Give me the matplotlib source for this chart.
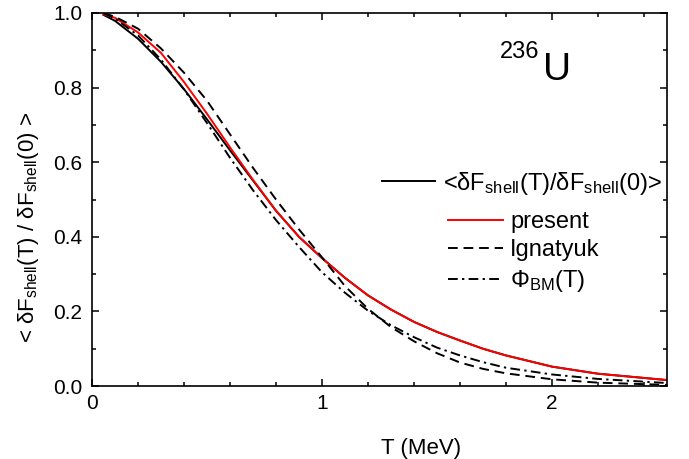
import numpy as np
import matplotlib
matplotlib.use("Agg")
import matplotlib.pyplot as plt
from matplotlib.ticker import MultipleLocator, FormatStrFormatter

plt.rcParams['font.family'] = ['Liberation Sans', 'DejaVu Sans']
plt.rcParams['mathtext.fontset'] = 'custom'
plt.rcParams['mathtext.rm'] = 'Liberation Sans'
plt.rcParams['mathtext.it'] = 'Liberation Sans:italic'

# temperature grid (MeV)
T = [0.05, 0.1, 0.2, 0.3, 0.4, 0.5, 0.6, 0.7, 0.8, 0.9, 1.0,
     1.1, 1.2, 1.3, 1.4, 1.5, 1.6, 1.7, 1.8, 2.0, 2.2, 2.5]

# <dF_shell(T)/dF_shell(0)>  (black solid)
avg_ratio = [0.995, 0.979, 0.931, 0.869, 0.796, 0.715, 0.632, 0.551, 0.47, 0.40, 0.343,
             0.29, 0.243, 0.205, 0.172, 0.145, 0.122, 0.10, 0.082, 0.052, 0.033, 0.016]
# present (red)
present = [0.997, 0.987, 0.948, 0.893, 0.815, 0.73, 0.64, 0.553, 0.47, 0.40, 0.343,
           0.29, 0.243, 0.205, 0.172, 0.145, 0.122, 0.10, 0.082, 0.052, 0.033, 0.016]
# Ignatyuk (dashed)
ignatyuk = [1.0, 0.99, 0.958, 0.905, 0.84, 0.765, 0.675, 0.585, 0.50, 0.42, 0.345,
            0.268, 0.207, 0.158, 0.12, 0.088, 0.063, 0.046, 0.034, 0.018, 0.009, 0.003]
# Phi_BM(T) (dash-dot)
phi_bm = [1.0, 0.985, 0.94, 0.875, 0.795, 0.705, 0.612, 0.525, 0.445, 0.373, 0.305,
          0.25, 0.202, 0.163, 0.131, 0.103, 0.082, 0.064, 0.049, 0.031, 0.019, 0.008]

fig = plt.figure(figsize=(6.89, 4.59), dpi=100)
ax = fig.add_axes([0.1335, 0.159, 0.8345, 0.8127])

lw = 1.4
l1, = ax.plot(T, avg_ratio, color='black', lw=lw)
l2, = ax.plot(T, present, color='#ff0000', lw=lw)
l3, = ax.plot(T, ignatyuk, color='black', lw=lw, dashes=(5, 3))
l4, = ax.plot(T, phi_bm, color='black', lw=lw, dashes=(5, 2.2, 1.2, 2.2))

ax.set_xlim(0, 2.5)
ax.set_ylim(0, 1.0)
ax.xaxis.set_major_locator(MultipleLocator(1))
ax.xaxis.set_minor_locator(MultipleLocator(0.2))
ax.yaxis.set_major_locator(MultipleLocator(0.2))
ax.yaxis.set_minor_locator(MultipleLocator(0.1))
ax.yaxis.set_major_formatter(FormatStrFormatter('%.1f'))
ax.tick_params(which='both', direction='in', top=True, right=True, width=1.1, labelsize=15)
ax.tick_params(which='major', length=5)
ax.tick_params(which='minor', length=3)
ax.tick_params(axis='x', which='major', pad=6)
ax.tick_params(axis='y', which='major', pad=7)
for s in ax.spines.values():
    s.set_linewidth(1.2)

ax.set_xlabel('T (MeV)', fontsize=16)
ax.xaxis.set_label_coords(0.572, -0.14)
ax.set_ylabel(r'< δF$_{\mathrm{shell}}$(T) / δF$_{\mathrm{shell}}$(0) >', fontsize=16)
ax.yaxis.set_label_coords(-0.088, 0.426)

ax.text(0.710, 0.879, '236', transform=ax.transAxes, fontsize=17, ha='left', va='baseline')
ax.text(0.784, 0.820, 'U', transform=ax.transAxes, fontsize=28, ha='left', va='baseline')

leg1 = ax.legend([l1], [r'<δF$_{\mathrm{shell}}$(T)/δF$_{\mathrm{shell}}$(0)>'],
                 loc='center left', bbox_to_anchor=(0.504, 0.544), frameon=False,
                 fontsize=17, handlelength=2.25, handletextpad=0.34,
                 borderpad=0, borderaxespad=0)
ax.add_artist(leg1)
ax.legend([l2, l3, l4], ['present', 'Ignatyuk', r'Φ$_{\mathrm{BM}}$(T)'],
          loc='center left', bbox_to_anchor=(0.619, 0.358), frameon=False,
          fontsize=17, handlelength=2.33, handletextpad=0.3, labelspacing=0.28,
          borderpad=0, borderaxespad=0)

fig.savefig('out.png', dpi=100)
